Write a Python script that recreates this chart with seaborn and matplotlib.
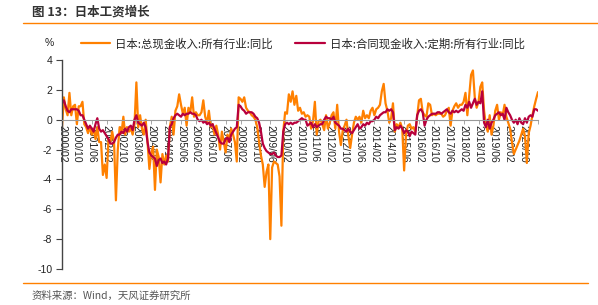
import matplotlib
matplotlib.use("Agg")
import matplotlib.pyplot as plt
import pandas as pd
import seaborn as sns

# 日本工资同比 (%), monthly 2000/02 .. 2021/06, one line per year
total_cash = [
    -0.5, 1.5, 0.7, 0.3, 1.8, 0.3, 0.9, 1.0, -0.3, 0.9, 0.9,              # 2000 (Feb-Dec)
    1.2, -0.3, -0.5, -0.9, -0.5, -1.0, -0.6, -1.3, -0.5, -1.5, -1.5, -3.7,  # 2001
    -3.0, -3.9, -1.3, -1.5, -0.8, -1.5, -5.4, -2.0, -0.5, -0.9, 0.2, -1.0,  # 2002
    -0.5, -0.8, -0.6, -1.0, -0.3, 2.5, -0.5, 0.3, -0.6, -1.0, 0.0, -1.5,    # 2003
    -3.3, -2.2, -1.8, -4.7, -2.0, -2.5, -4.2, -2.3, -3.0, -2.4, -2.8, -0.5, # 2004
    0.2, -1.0, 0.6, 0.9, 1.7, 1.0, 0.4, 0.8, -0.4, 0.8, 0.5, 1.5,           # 2005
    0.2, 0.5, 0.3, 0.3, 0.5, 1.3, 0.2, -0.2, 0.6, -0.5, -0.3, -1.0,         # 2006
    -0.4, -1.0, -2.0, -0.8, -1.5, -2.2, -1.0, -1.3, -0.6, -1.0, -1.5, -2.8, # 2007
    1.5, 1.4, 1.2, 1.5, 0.8, 0.6, 0.5, 0.3, 0.2, 0.0, -0.5, -1.5,           # 2008
    -2.4, -3.0, -4.5, -3.5, -3.0, -8.0, -3.2, -2.8, -2.9, -3.0, -3.8, -7.1, # 2009
    -0.8, 0.5, 0.4, 1.7, 1.2, 1.9, 1.0, 1.6, 0.6, 0.8, 0.4, 0.5,            # 2010
    0.2, 0.3, 0.2, -0.6, -0.1, 1.2, -1.0, -0.1, 0.0, -0.3, -0.7, 0.3,       # 2011
    -0.6, -0.2, 0.3, 0.5, -0.6, 1.0, -0.8, -1.7, -0.7, -0.4, 0.0, -1.1,     # 2012
    -1.9, -1.0, -0.2, 0.2, 0.0, 0.2, -0.2, 0.6, 0.1, 0.3, 0.1, 0.6,         # 2013
    0.8, 0.3, 0.7, 0.8, 1.0, 1.9, 2.4, 1.1, 0.6, -0.2, 0.1, 1.1,            # 2014
    -0.8, -0.3, -0.5, -0.2, -0.6, -3.4, -1.0, -0.4, -0.3, -0.6, -0.5, -0.8, # 2015
    0.2, 1.3, 1.4, 0.5, 0.3, 0.2, 1.1, 1.0, 0.3, 0.4, 0.3, 0.4,             # 2016
    0.4, 0.4, 0.2, 0.3, 0.6, 0.8, -0.4, 0.6, 0.9, 1.1, 0.8, 1.0,            # 2017
    1.0, 1.2, 1.8, 0.3, 1.6, 3.0, 3.3, 1.5, 0.8, 1.2, 2.2, 2.5,             # 2018
    0.6, -0.4, -0.8, 0.3, -1.0, -0.4, 0.6, 1.0, 0.0, 0.5, 0.3, 1.0,         # 2019
    0.2, -0.2, -0.6, -1.5, -2.3, -2.0, -1.7, -1.4, -1.0, -0.6, -1.1, -2.9,  # 2020
    -0.9, -0.4, 0.3, 0.9, 1.4, 1.85,                                        # 2021 (Jan-Jun)
]

scheduled_cash = [
    1.1, 1.3, 0.9, 0.6, 0.5, 0.7, 0.7, 0.7, 0.7, 0.6, 0.3,                  # 2000
    0.3, 0.0, -0.3, -0.6, -0.4, -0.6, -0.8, -0.3, 0.1, -0.6, -0.8, -0.7,    # 2001
    -0.9, -1.1, -1.3, -1.6, -1.6, -1.5, -1.2, -1.0, -1.0, -0.8, -0.9, -0.6, # 2002
    -0.8, -0.5, -0.4, -0.7, 0.0, 0.3, -0.2, -0.3, -0.4, -0.2, -0.5, -1.5,   # 2003
    -2.2, -2.4, -2.5, -2.6, -3.1, -2.7, -2.6, -2.9, -2.8, -3.0, -2.6, -0.5, # 2004
    -0.3, 0.1, 0.3, 0.4, 0.3, 0.2, 0.4, 0.3, 0.4, 0.4, 0.5, 0.4,            # 2005
    0.4, 0.3, 0.0, -0.1, 0.0, -0.2, -0.1, -0.3, -0.2, -0.4, -0.3, -0.6,     # 2006
    -0.9, -1.2, -1.5, -1.6, -1.6, -1.3, -1.2, -1.5, -1.0, -0.8, -0.6, -0.5, # 2007
    1.0, 0.9, 0.7, 0.6, 0.4, 0.5, 0.5, 0.5, 0.4, 0.2, 0.1, -0.2,            # 2008
    -0.8, -1.6, -1.9, -2.1, -2.2, -2.3, -2.3, -2.2, -2.4, -2.5, -2.5, -2.4, # 2009
    -0.8, -0.3, -0.2, -0.3, -0.2, -0.3, -0.2, -0.2, -0.1, 0.0, 0.1, 0.0,    # 2010
    0.0, -0.4, -0.3, -0.2, -0.5, -0.3, -0.5, -0.4, -0.3, -0.3, 0.0, 0.2,    # 2011
    0.1, 0.1, 0.0, 0.2, -0.2, -0.3, -0.4, -0.6, -0.6, -0.7, -0.8, -0.6,     # 2012
    -0.8, -0.9, -0.7, -0.5, -0.3, -0.6, -0.5, -0.3, -0.4, -0.2, -0.3, -0.1, # 2013
    -0.1, 0.0, 0.2, 0.1, 0.3, 0.4, 0.5, 0.5, 0.7, 0.6, 0.7, 0.5,            # 2014
    -0.7, -0.5, -0.6, -0.4, -0.6, -0.9, -0.7, -0.8, -1.1, -0.8, -0.9, -1.0, # 2015
    0.3, 0.6, 0.7, 0.5, -0.4, 0.0, 0.2, 0.3, 0.4, 0.4, 0.4, 0.5,            # 2016
    0.5, 0.4, 0.5, 0.6, 0.7, 0.5, 0.4, 0.6, 0.5, 0.6, 0.5, 0.6,             # 2017
    0.7, 0.6, 1.0, 0.8, 1.2, 0.8, 1.1, 1.4, 1.0, 1.2, 1.1, 1.9,             # 2018
    -0.2, -0.5, 0.0, -0.6, -0.2, 0.0, 0.3, 0.4, 0.5, 0.3, 0.4, 0.0,         # 2019
    0.8, 0.5, 0.3, 0.0, -0.2, 0.0, -0.3, 0.1, -0.2, -0.3, 0.1, -0.2,        # 2020
    0.2, 0.3, 0.2, 0.7, 0.7, 0.6,                                           # 2021
]

tick_labels = [
    "2000/02", "2000/10", "2001/06", "2002/02", "2002/10", "2003/06", "2004/02",
    "2004/10", "2005/06", "2006/02", "2006/10", "2007/06", "2008/02", "2008/10",
    "2009/06", "2010/02", "2010/10", "2011/06", "2012/02", "2012/10", "2013/06",
    "2014/02", "2014/10", "2015/06", "2016/02", "2016/10", "2017/06", "2018/02",
    "2018/10", "2019/06", "2020/02", "2020/10", "",
]

name_total = "日本:总现金收入:所有行业:同比"
name_sched = "日本:合同现金收入:定期:所有行业:同比"

months = pd.period_range("2000-02", periods=len(total_cash), freq="M")
df = pd.DataFrame({"idx": range(len(months)),
                   name_total: total_cash,
                   name_sched: scheduled_cash})

sns.set_theme(style="white")
plt.rcParams["font.family"] = ["Liberation Sans", "Noto Sans CJK SC", "DejaVu Sans"]
plt.rcParams["axes.unicode_minus"] = False

fig = plt.figure(figsize=(5.98, 3.05), dpi=100)
ax = fig.add_axes([62 / 598, 1 - 269 / 305, (538 - 62) / 598, (269 - 60) / 305])

sns.lineplot(data=df, x="idx", y=name_total, ax=ax, color="#FF8000",
             linewidth=1.6, label=name_total)
sns.lineplot(data=df, x="idx", y=name_sched, ax=ax, color="#B8003C",
             linewidth=1.6, label=name_sched)

ax.set_xlim(0, len(months) - 1)
ax.set_ylim(-10, 4)
ax.set_yticks(range(-10, 5, 2))
ax.set_xticks(range(0, 8 * len(tick_labels), 8))
ax.set_xticklabels(tick_labels)
ax.set_xlabel("")
ax.set_ylabel("")

for s in ["top", "right"]:
    ax.spines[s].set_visible(False)
ax.spines["left"].set_color("#444")
ax.spines["left"].set_linewidth(1.0)
ax.spines["bottom"].set_position(("data", 0))
ax.spines["bottom"].set_color("#999")
ax.spines["bottom"].set_linewidth(0.8)
ax.tick_params(axis="y", direction="out", length=4, width=0.8, color="#444",
               labelsize=7.5, labelcolor="#222", pad=3, left=True)
ax.tick_params(axis="x", direction="out", length=3, width=0.6, color="#999",
               pad=1, bottom=True, labelsize=7.5, labelcolor="#222",
               labelrotation=-90)
plt.setp(ax.get_xticklabels(), rotation=-90, va="top", ha="center",
         rotation_mode="default")

ax.legend(loc="lower left", bbox_to_anchor=(0.03, 1.03), ncol=2,
          frameon=False, handlelength=2.6, columnspacing=2.0,
          handletextpad=0.4, borderaxespad=0,
          prop={"family": ["Noto Sans CJK SC", "DejaVu Sans"], "size": 8.2})

fig.text(45 / 598, 1 - 43 / 305, "%", fontsize=7.5, color="#222",
         ha="left", va="center")
fig.text(32 / 598, 1 - 12 / 305, "图 13：日本工资增长", fontsize=9,
         fontweight="bold", color="#333", ha="left", va="center",
         family=["Noto Sans CJK SC", "DejaVu Sans"])
fig.add_artist(plt.Line2D([23 / 598, 1.0], [1 - 23 / 305, 1 - 23 / 305],
                          color="#FF8000", linewidth=1.0))
fig.add_artist(plt.Line2D([23 / 598, 588 / 598], [1 - 283 / 305, 1 - 283 / 305],
                          color="#FF8000", linewidth=1.0))
fig.text(32 / 598, 1 - 296 / 305, "资料来源：Wind，天风证券研究所", fontsize=7.5,
         color="#555", ha="left", va="center",
         family=["Noto Sans CJK SC", "DejaVu Sans"])

fig.savefig("out.png", dpi=100)
